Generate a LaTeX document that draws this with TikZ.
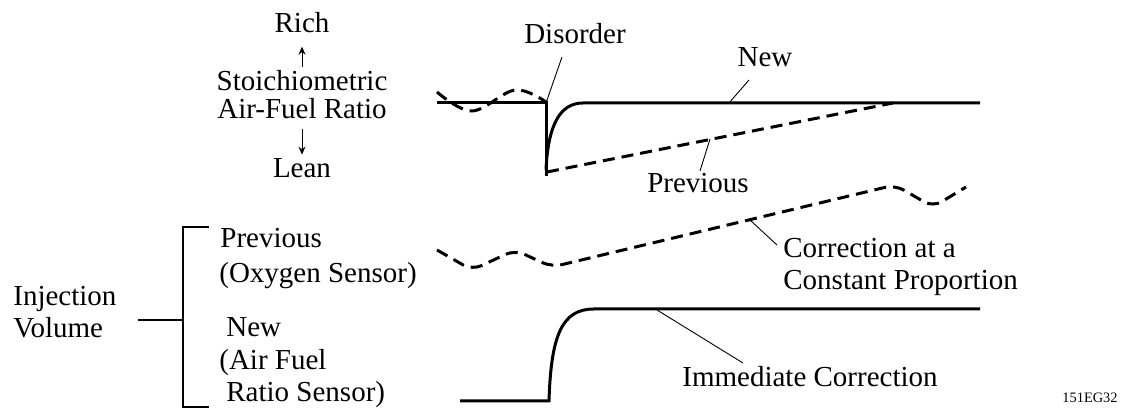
\documentclass[tikz,border=0pt]{standalone}
\usepackage{fontspec}
\setmainfont{Liberation Serif}
\usetikzlibrary{arrows.meta}
\begin{document}
\begin{tikzpicture}[x=0.5pt,y=-0.5pt,
  lbl/.style={inner sep=0pt, anchor=base, font=\fontsize{14.5}{16}\selectfont},
  lbll/.style={lbl, anchor=base west},
  curve/.style={line width=1.5pt},
  dcurve/.style={line width=1.5pt, dash pattern=on 6pt off 3.5pt},
  leader/.style={line width=0.45pt},
  brk/.style={line width=0.6pt},
  smallarrow/.style={line width=0.5pt,-{Stealth[length=4pt,width=3.5pt]}},
  tinylbl/.style={inner sep=0pt, anchor=base east, font=\fontsize{7.2}{8}\selectfont}]
\useasboundingbox (0,0) rectangle (1126,410);

% ---- left-top axis labels
\node[lbl] (rich) at (302,33) {Rich};
\node[lbl] (stoi) at (302,91) {Stoichiometric};
\node[lbl] (afr)  at (302,119) {Air-Fuel Ratio};
\node[lbl] (lean) at (302,178) {Lean};
\draw[smallarrow, shorten <=1.5pt, shorten >=6.5pt] (stoi.north) -- (rich.south);
\draw[smallarrow, shorten <=4.5pt, shorten >=2pt] (afr.south) -- (lean.north);

% ---- upper graph
\coordinate (u0)   at (437,103);
\coordinate (dis)  at (546,103);
\coordinate (ubot) at (546,176);
\coordinate (ucs)  at (546,170);
\coordinate (unew) at (583,103);
\coordinate (uend) at (980,103);
\draw[curve] (u0) -- (dis) -- (ubot);
\draw[curve] (ucs) .. controls (548,125) and (560,103) .. (unew) -- (uend);
\draw[dcurve] plot[smooth,tension=0.6] coordinates {(437,92) (472,111) (515,90) (546,102)};
\coordinate (pv0) at (547,172);
\coordinate (pv1) at (893,103);
\draw[dcurve] (pv0) -- (pv1);

\node[lbl] (disorder) at (575,44) {Disorder};
\coordinate (ld1) at (562,57);
\draw[leader] (ld1) -- (dis);

\node[lbl] (newlbl) at (765,67) {New};
\coordinate (ln1) at (749,80);
\coordinate (ln2) at (729,103);
\draw[leader] (ln1) -- (ln2);

\node[lbl] (prevlbl) at (698,193) {Previous};
\coordinate (lp1) at (700,171);
\coordinate (lp2) at (710,139);
\draw[leader] (lp1) -- (lp2);

% ---- lower graph
\draw[dcurve, rounded corners=5pt] (437,250) -- (472,270) -- (515,250) -- (552,267) -- (895,185) -- (933,207) -- (966,187);
\node[lbll] (corr1) at (783,258) {Correction at a};
\node[lbll] (corr2) at (783,290) {Constant Proportion};
\coordinate (lc1) at (777,245);
\coordinate (lc2) at (750,220);
\draw[leader] (lc1) -- (lc2);

\coordinate (l0) at (460,401);
\coordinate (l1) at (549,401);
\coordinate (l2) at (594,309);
\coordinate (l3) at (980,309);
\draw[curve] (l0) -- (l1) .. controls (551,335) and (562,309) .. (l2) -- (l3);
\node[lbl] (imm) at (810,387) {Immediate Correction};
\coordinate (li1) at (657,310);
\coordinate (li2) at (743,363);
\draw[leader] (li1) -- (li2);

% ---- left-bottom labels
\node[lbll] (inj) at (13,306) {Injection};
\node[lbll] (vol) at (13,338) {Volume};
\coordinate (iv) at (138,320);
\coordinate (bm) at (183,320);
\draw[brk] (iv) -- (bm);
\coordinate (bt) at (209,227);
\coordinate (bb) at (209,407);
\draw[brk] (bt) -- (183,227) -- (183,407) -- (bb);

\node[lbll] (prev) at (220,248) {Previous};
\node[lbll] (oxy)  at (219,283) {(Oxygen Sensor)};
\node[lbll] (new2) at (226,337) {New};
\node[lbll] (air)  at (219,370) {(Air Fuel};
\node[lbll] (ratio) at (226,402) {Ratio Sensor)};

\node[tinylbl] (code) at (1118,403) {151EG32};
\end{tikzpicture}
\end{document}
